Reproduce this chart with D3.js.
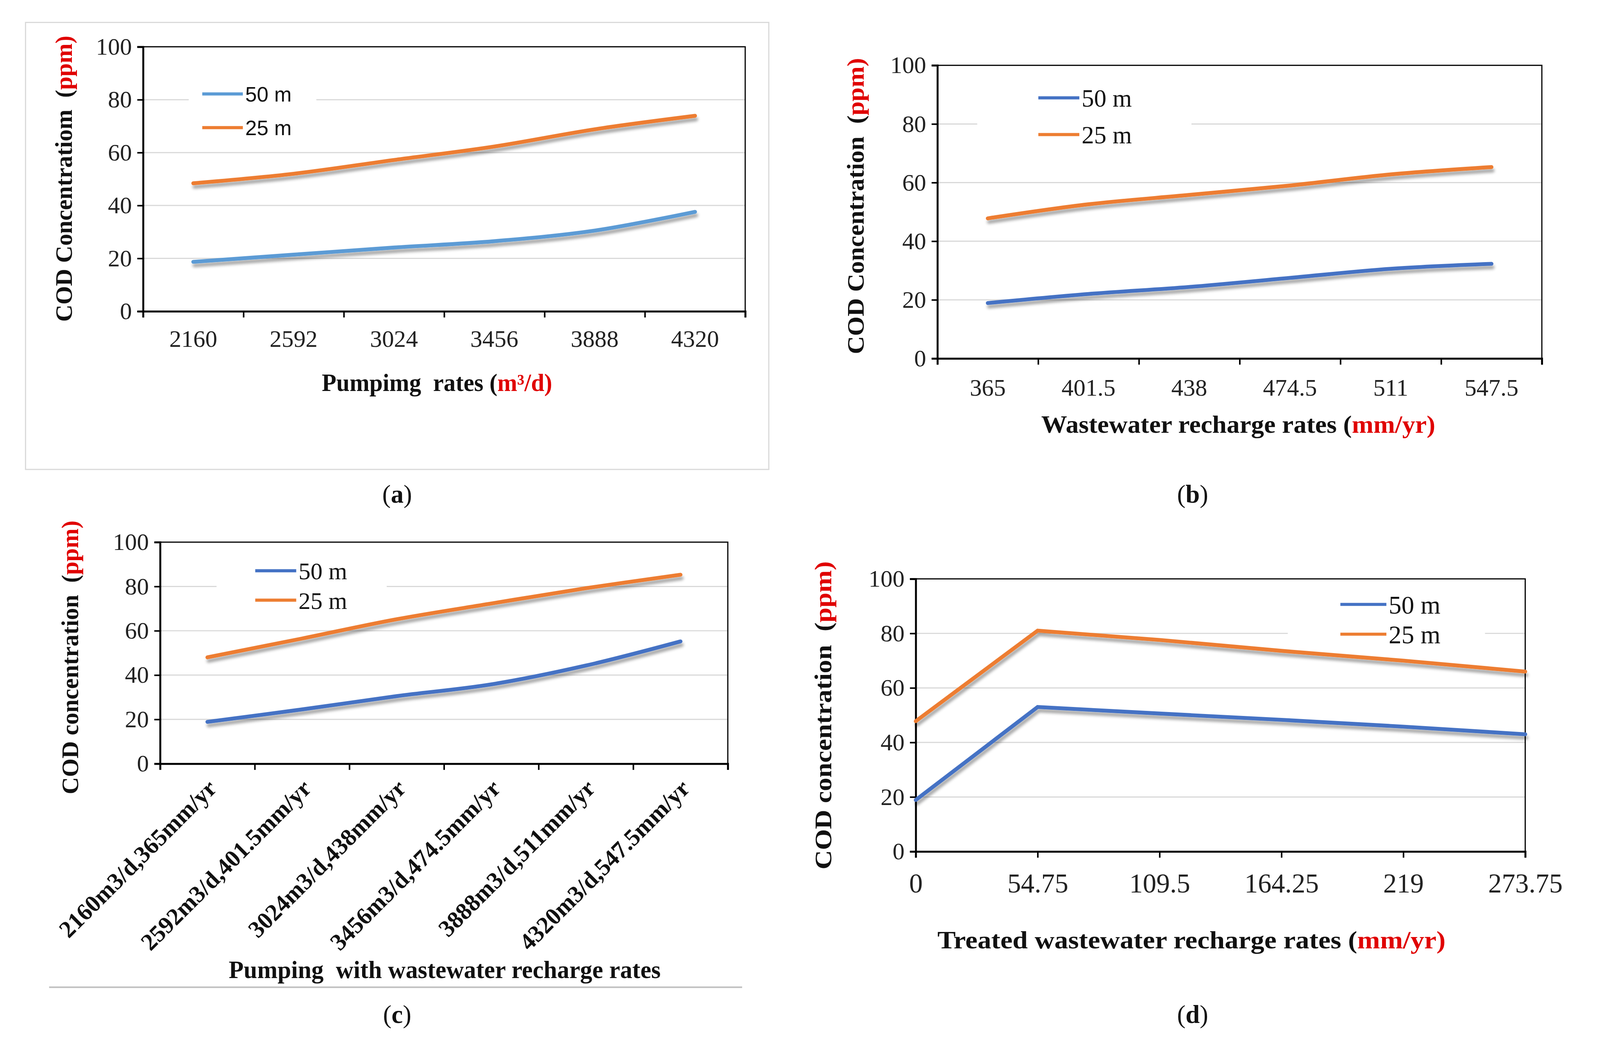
<!DOCTYPE html>
<html>
<head>
<meta charset="utf-8">
<script src="https://cdn.jsdelivr.net/npm/d3@7"></script>
<style>
  body { margin: 0; background: #fff; }
  text { white-space: pre; }
</style>
</head>
<body>
<svg id="chart" width="4119" height="2701"></svg>
<script>
// series / categories
const seriesNames = ["50 m", "25 m"];
const yTicks = [0, 20, 40, 60, 80, 100];

const catsA = ["2160", "2592", "3024", "3456", "3888", "4320"];
const a50 = [18.7, 21.4, 24.1, 26.5, 30.5, 37.6];
const a25 = [48.4, 52.0, 57.2, 62.3, 68.8, 73.9];

const catsB = ["365", "401.5", "438", "474.5", "511", "547.5"];
const b50 = [18.9, 22.0, 24.4, 27.5, 30.6, 32.3];
const b25 = [47.8, 52.6, 55.8, 59.0, 62.8, 65.3];

const catsC = ["2160m3/d,365mm/yr", "2592m3/d,401.5mm/yr", "3024m3/d,438mm/yr",
  "3456m3/d,474.5mm/yr", "3888m3/d,511mm/yr", "4320m3/d,547.5mm/yr"];
const c50 = [18.9, 24.5, 30.5, 35.8, 44.3, 55.2];
const c25 = [48.0, 56.5, 65.2, 72.3, 79.2, 85.3];

const catsD = ["0", "54.75", "109.5", "164.25", "219", "273.75"];
const d50 = [18.9, 53.0, 50.6, 48.3, 45.8, 43.0];
const d25 = [47.8, 81.0, 77.6, 73.6, 70.0, 66.0];

const SERIF = "'Liberation Serif', 'Times New Roman', serif";
const ORANGE = "#ED7D31";

const svg = d3.select("#chart");

const defs = svg.append("defs");
const f = defs.append("filter").attr("id", "shadow")
  .attr("x", "-5%").attr("y", "-20%").attr("width", "110%").attr("height", "160%");
f.append("feDropShadow").attr("dx", 3).attr("dy", 9).attr("stdDeviation", 4)
  .attr("flood-color", "#000").attr("flood-opacity", 0.35);

// layout numbers below were measured ~1% too large, root group pulls them back
const root = svg.append("g").attr("transform", "scale(0.99)");

function panel(o) {
  const g = root.append("g");
  const y = d3.scaleLinear().domain([0, 100]).range([o.bottom, o.top]);

  // gridlines
  g.append("g").selectAll("line").data(yTicks.filter(d => d > 0 && d < 100)).join("line")
    .attr("x1", o.left).attr("x2", o.right)
    .attr("y1", d => y(d)).attr("y2", d => y(d))
    .attr("stroke", "#d9d9d9").attr("stroke-width", 3);

  // frame top/right
  g.append("path")
    .attr("d", `M${o.left},${o.top}H${o.right}V${o.bottom}`)
    .attr("fill", "none").attr("stroke", "#000").attr("stroke-width", 3);

  // legend box (hides the gridline behind it)
  g.append("rect").attr("x", o.legBox[0]).attr("y", o.legBox[1])
    .attr("width", o.legBox[2]).attr("height", o.legBox[3]).attr("fill", "#fff");

  // y axis
  const ya = g.append("g").attr("transform", `translate(${o.left},0)`)
    .call(d3.axisLeft(y).tickValues(yTicks).tickSize(15).tickPadding(14));
  ya.select(".domain").attr("stroke-width", 5);
  ya.selectAll(".tick line").attr("stroke-width", 4);
  ya.selectAll("text").attr("font-family", SERIF).attr("font-size", 62).attr("fill", "#222");

  // x scale
  let x;
  if (o.point) {
    x = d3.scalePoint().domain(o.cats).range([o.left, o.right]);
    const xa = g.append("g").attr("transform", `translate(0,${o.bottom})`)
      .call(d3.axisBottom(x).tickSize(16).tickPadding(o.tickPad));
    xa.select(".domain").attr("stroke-width", 5);
    xa.selectAll(".tick line").attr("stroke-width", 4);
    xa.selectAll("text").attr("font-family", SERIF).attr("font-size", o.tickFont).attr("fill", "#222");
  } else {
    x = d3.scaleBand().domain(o.cats).range([o.left, o.right]);
    const edges = d3.scaleLinear().domain([0, o.cats.length]).range([o.left, o.right]);
    const xe = g.append("g").attr("transform", `translate(0,${o.bottom})`)
      .call(d3.axisBottom(edges).tickValues(d3.range(o.cats.length + 1)).tickSize(16).tickFormat(""));
    xe.select(".domain").attr("stroke-width", 5);
    xe.selectAll(".tick line").attr("stroke-width", 4);
    const xl = g.append("g").attr("transform", `translate(0,${o.bottom})`)
      .call(d3.axisBottom(x).tickSize(0).tickPadding(o.tickPad));
    xl.select(".domain").remove();
    const t = xl.selectAll("text").attr("font-family", SERIF).attr("font-size", o.tickFont).attr("fill", "#222");
    if (o.rotate) {
      t.attr("font-weight", "bold").attr("fill", "#111")
        .attr("y", 0).attr("dy", "0.35em")
        .attr("transform", "translate(12,52) rotate(-45)")
        .style("text-anchor", "end");
    }
  }
  const cx = d => x(d) + (o.point ? 0 : x.bandwidth() / 2);

  // lines
  const line = d3.line()
    .x((d, i) => cx(o.cats[i]))
    .y(d => y(d))
    .curve(o.point ? d3.curveLinear : d3.curveCatmullRom.alpha(0.5));
  [o.s50, o.s25].forEach((s, i) => {
    g.append("path").datum(s)
      .attr("d", line)
      .attr("fill", "none")
      .attr("stroke", i === 0 ? o.blue : ORANGE)
      .attr("stroke-width", 10)
      .attr("stroke-linecap", "round")
      .attr("filter", "url(#shadow)");
  });

  // legend
  seriesNames.forEach((name, i) => {
    const ly = o.legY[i];
    g.append("line").attr("x1", o.legX).attr("x2", o.legX + o.legLen)
      .attr("y1", ly).attr("y2", ly)
      .attr("stroke", i === 0 ? o.blue : ORANGE).attr("stroke-width", 8);
    g.append("text").attr("x", o.legX + o.legLen + 6).attr("y", ly).attr("dy", "0.36em")
      .attr("font-family", o.legFont).attr("font-size", o.legSize).attr("fill", "#111")
      .text(name);
  });

  // y title
  const yt = g.append("text")
    .attr("transform", `translate(${o.yTitle[0]},${o.yTitle[1]}) rotate(-90)`)
    .attr("text-anchor", "middle").attr("dy", "0.35em")
    .attr("font-family", SERIF).attr("font-weight", "bold").attr("font-size", 62)
    .attr("textLength", o.yTitle[2]).attr("lengthAdjust", "spacingAndGlyphs");
  yt.append("tspan").attr("fill", "#111").text(o.yText + "  (");
  yt.append("tspan").attr("fill", "#e00000").text("ppm)");

  // x title
  const xt = g.append("text")
    .attr("x", o.xTitle[0]).attr("y", o.xTitle[1])
    .attr("text-anchor", "middle")
    .attr("font-family", SERIF).attr("font-weight", "bold").attr("font-size", 64)
    .attr("textLength", o.xTitle[2]).attr("lengthAdjust", "spacingAndGlyphs");
  o.xParts.forEach(p => {
    xt.append("tspan").attr("fill", p.red ? "#e00000" : "#111").text(p.t);
  });

  // panel letter
  const lt = root.append("text").attr("x", o.letter[0]).attr("y", o.letter[1])
    .attr("text-anchor", "middle").attr("font-family", SERIF).attr("font-size", 66).attr("fill", "#111");
  lt.append("tspan").text("(");
  lt.append("tspan").attr("font-weight", "bold").text(o.letterText);
  lt.append("tspan").text(")");
}

// panel (a) outer border
root.append("rect").attr("x", 66).attr("y", 58).attr("width", 1922).attr("height", 1156)
  .attr("fill", "none").attr("stroke", "#d9d9d9").attr("stroke-width", 3);

panel({
  left: 370, right: 1927, top: 121, bottom: 805,
  cats: catsA, s50: a50, s25: a25, blue: "#5B9BD5",
  tickFont: 62, tickPad: 48,
  legX: 523, legLen: 105, legY: [243, 330], legBox: [488, 200, 330, 175],
  legFont: "'Liberation Sans', Arial, sans-serif", legSize: 54,
  yText: "COD Concentratiom", yTitle: [164, 462, 740],
  xParts: [{t: "Pumpimg  rates ("}, {t: "m\u00B3/d)", red: true}],
  xTitle: [1130, 1011, 596],
  letter: [1027, 1300], letterText: "a"
});

panel({
  left: 2424, right: 3987, top: 169, bottom: 927,
  cats: catsB, s50: b50, s25: b25, blue: "#4472C4",
  tickFont: 62, tickPad: 52,
  legX: 2685, legLen: 106, legY: [253, 348], legBox: [2527, 215, 554, 175],
  legFont: SERIF, legSize: 64,
  yText: "COD Concentration", yTitle: [2212, 533, 766],
  xParts: [{t: "Wastewater recharge rates ("}, {t: "mm/yr)", red: true}],
  xTitle: [3202, 1119, 1019],
  letter: [3084, 1300], letterText: "b"
});

panel({
  left: 414, right: 1882, top: 1402, bottom: 1975,
  cats: catsC, s50: c50, s25: c25, blue: "#4472C4",
  tickFont: 62, tickPad: 20, rotate: true,
  legX: 660, legLen: 106, legY: [1476, 1552], legBox: [560, 1440, 440, 150],
  legFont: SERIF, legSize: 62,
  yText: "COD concentration", yTitle: [180, 1700, 708],
  xParts: [{t: "Pumping  with wastewater recharge rates"}],
  xTitle: [1150, 2529, 1117],
  letter: [1027, 2645], letterText: "c"
});

// (c) separator line
root.append("line").attr("x1", 127).attr("x2", 1919).attr("y1", 2553).attr("y2", 2553)
  .attr("stroke", "#bfbfbf").attr("stroke-width", 4);

panel({
  left: 2368, right: 3944, top: 1497, bottom: 2202, point: true,
  cats: catsD, s50: d50, s25: d25, blue: "#4472C4",
  tickFont: 70, tickPad: 40,
  legX: 3466, legLen: 119, legY: [1563, 1640], legBox: [3330, 1520, 510, 160],
  legFont: SERIF, legSize: 66,
  yText: "COD concentration", yTitle: [2128, 1850, 797],
  xParts: [{t: "Treated wastewater recharge rates ("}, {t: "mm/yr)", red: true}],
  xTitle: [3081, 2453, 1314],
  letter: [3084, 2645], letterText: "d"
});
</script>
</body>
</html>
